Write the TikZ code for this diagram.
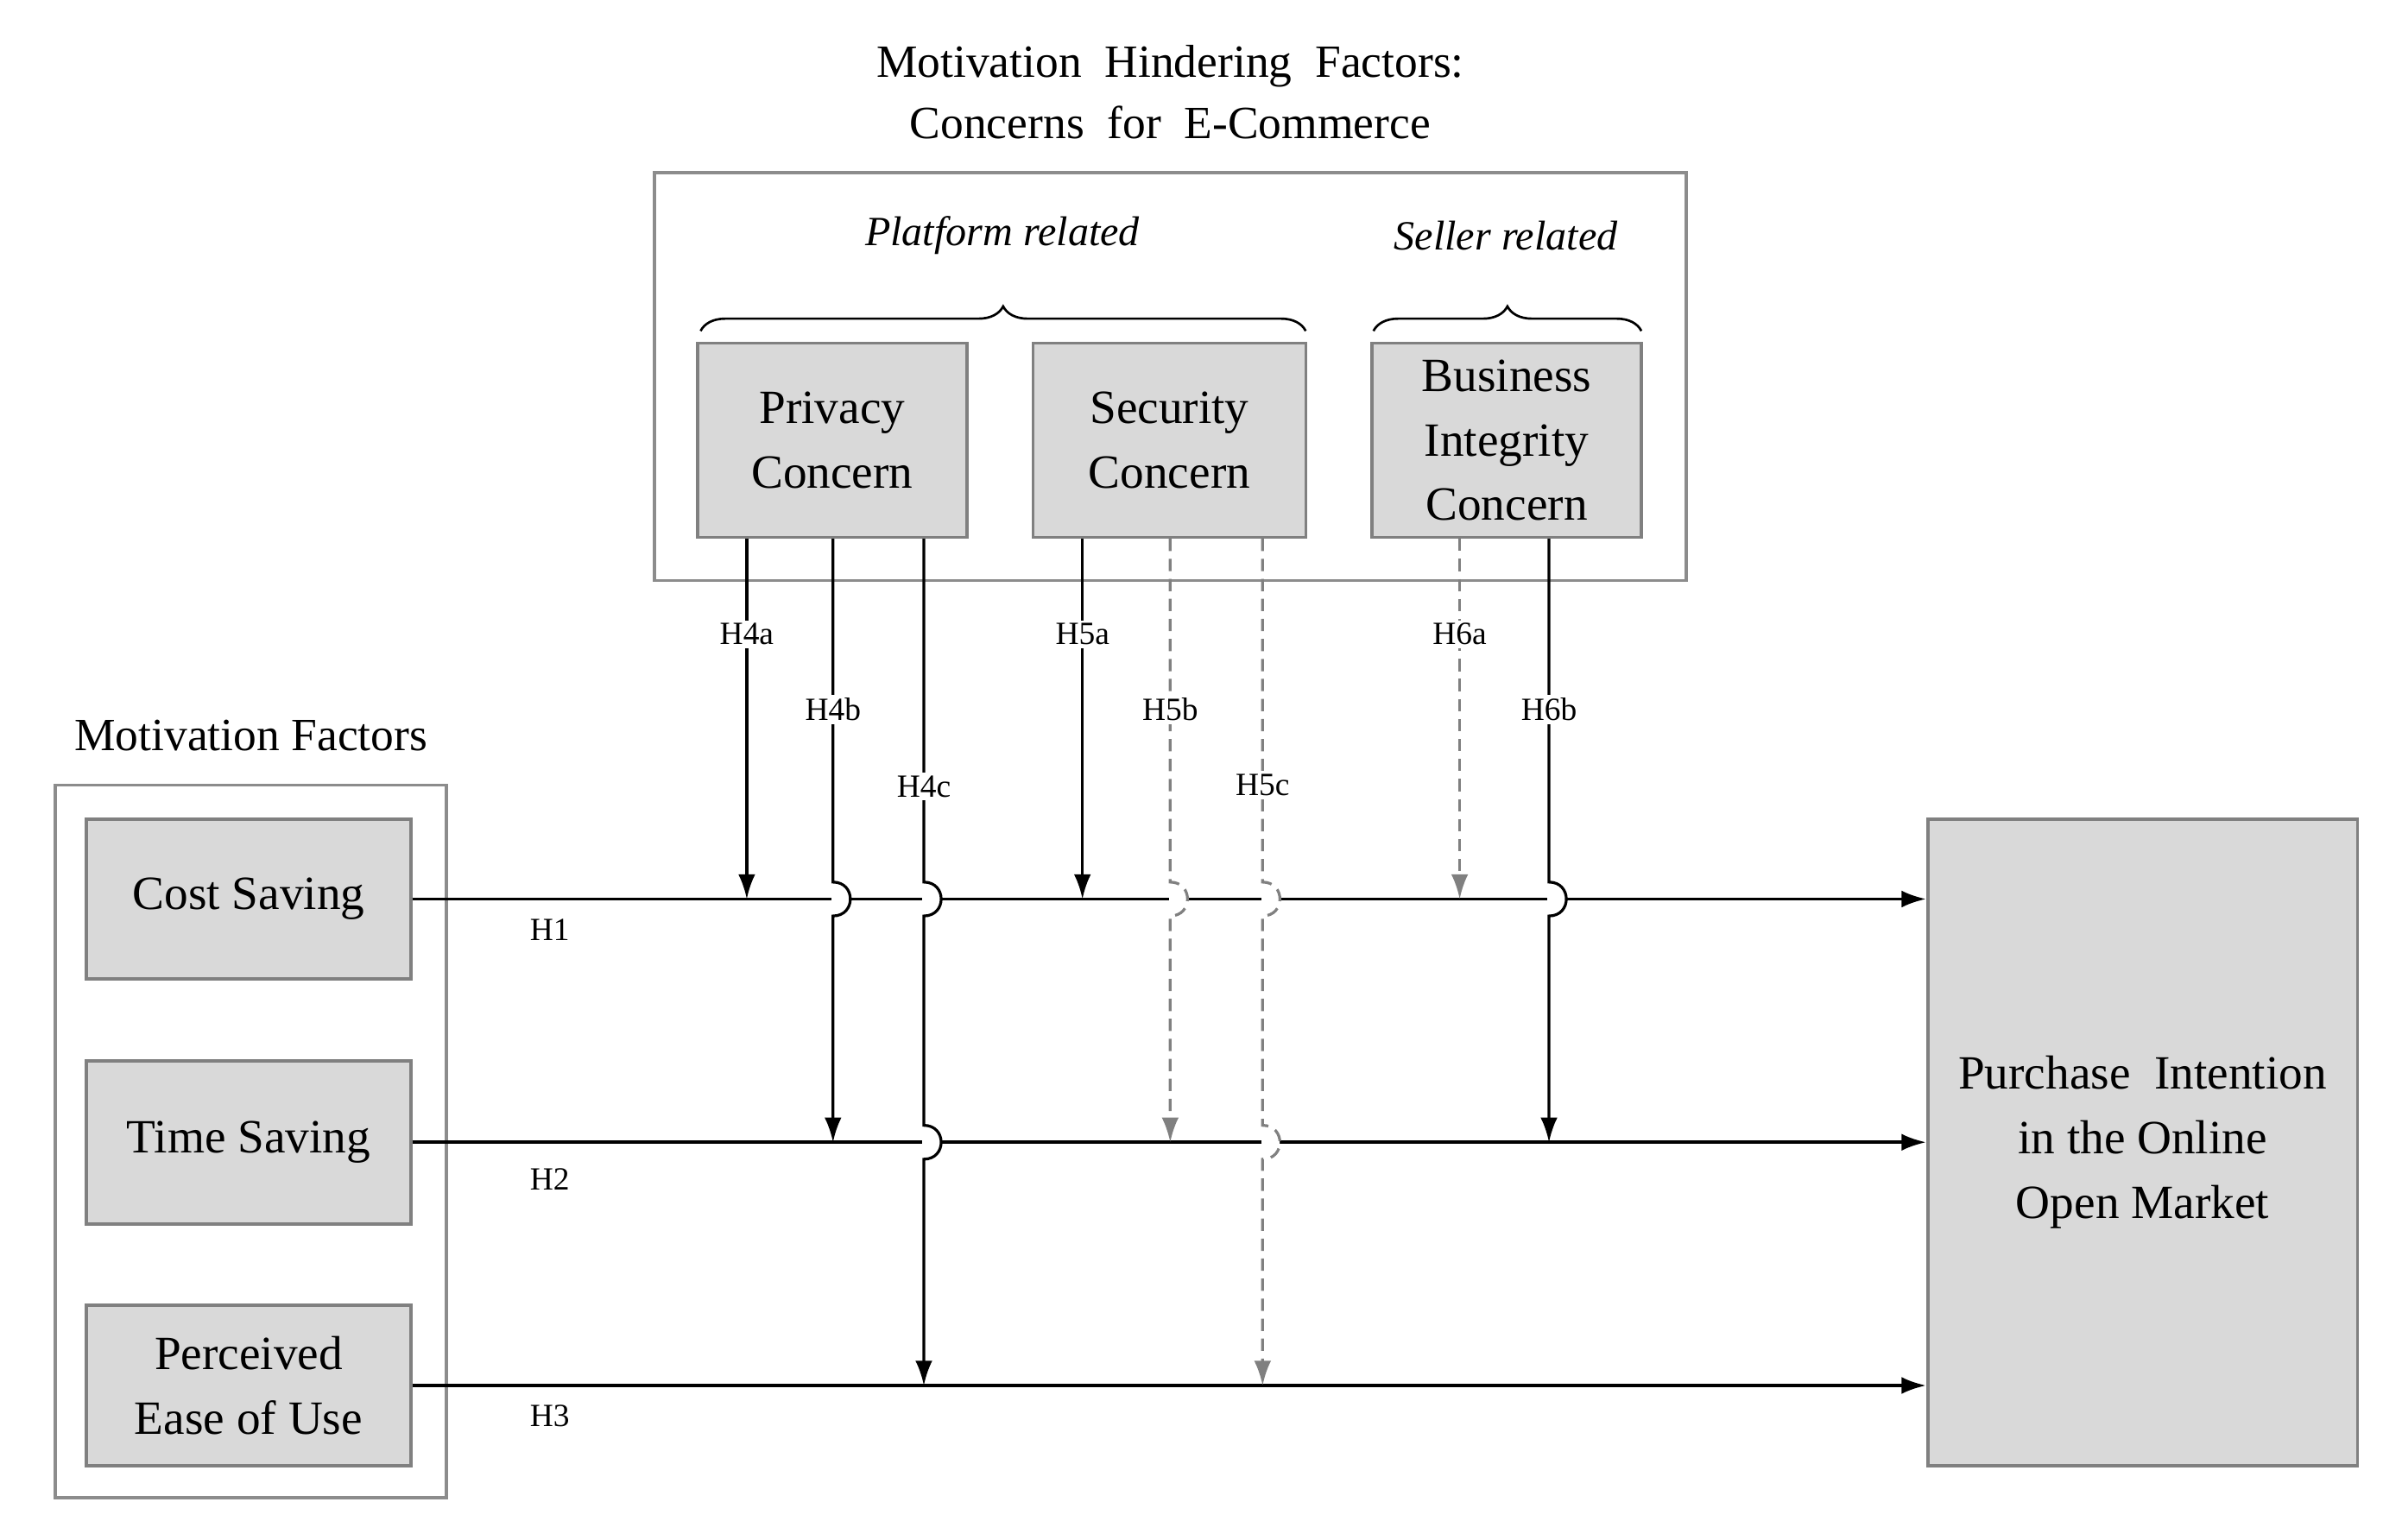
\documentclass[tikz,border=0pt]{standalone}
\usepackage{fontspec}
\setmainfont{Liberation Serif}
\usetikzlibrary{arrows.meta,decorations.pathreplacing}
\begin{document}
\begin{tikzpicture}[x=1pt,y=-1pt,
  box/.style={draw=black!50,line width=2pt,fill=black!15,align=center,font=\fontsize{31}{42}\selectfont,inner sep=0pt},
  frame/.style={draw=black!45,line width=2pt},
  hl/.style={line width=2pt,-{Latex[length=16,width=11]}},
  sv/.style={line width=1.8pt,-{Latex[length=16,width=11]}},
  dv/.style={line width=1.8pt,black!50,dash pattern=on 8pt off 5pt,-{Latex[length=16,width=11]}},
  lab/.style={fill=white,inner sep=2pt,font=\fontsize{21}{24}\selectfont},
  hlab/.style={font=\fontsize{21}{24}\selectfont},
  brc/.style={decorate,decoration={brace,amplitude=16pt},line width=1.5pt}]
\useasboundingbox (0,0) rectangle (1560,1000);
% titles
\node[align=center,font=\fontsize{30}{40}\selectfont] (title) at (760,60) {Motivation\ \ Hindering\ \ Factors:\\Concerns\ \ for\ \ E-Commerce};
\draw[frame] (425,112) rectangle (1095,377);
\node[font=\fontsize{27}{30}\selectfont\itshape] (plat) at (651,153) {Platform related};
\node[font=\fontsize{27}{30}\selectfont\itshape] (sell) at (978,153) {Seller related};
\draw[brc] (455,215) -- (848,215);
\draw[brc] (892,215) -- (1066,215);
% concern boxes
\node[box,minimum width=175pt,minimum height=126pt] (priv) at (540.5,286) {Privacy\\Concern};
\node[box,minimum width=177pt,minimum height=126pt] (sec) at (759.5,286) {Security\\Concern};
\node[box,minimum width=175pt,minimum height=126pt] (bus) at (978.5,286) {Business\\Integrity\\Concern};
% motivation factors
\node[font=\fontsize{30}{34}\selectfont] (mf) at (163,478) {Motivation Factors};
\draw[frame] (36,510) rectangle (290,973);
\node[box,minimum width=211pt,minimum height=104pt] (cost) at (161.5,584) {Cost Saving};
\node[box,minimum width=211pt,minimum height=106pt] (time) at (161.5,742) {Time Saving};
\node[box,minimum width=211pt,minimum height=104pt] (ease) at (161.5,900) {Perceived\\Ease of Use};
\node[box,minimum width=279pt,minimum height=420pt] (pi) at (1391.5,742) {Purchase\ \ Intention\\in the Online\\Open Market};
% horizontal arrows
\draw[hl] (cost.east) -- (cost.east -| pi.west);
\draw[hl] (time.east) -- (time.east -| pi.west);
\draw[hl] (ease.east) -- (ease.east -| pi.west);
\node[hlab] (h1) at (357,604) {H1};
\node[hlab] (h2) at (357,766) {H2};
\node[hlab] (h3) at (357,920) {H3};
% hop masks
\foreach \x/\y in {541/584,600/584,600/742,760/584,820/584,820/742,1006/584}{
  \fill[white] (\x,\y-11) .. controls (\x+15,\y-11) and (\x+15,\y+11) .. (\x,\y+11) -- cycle;
  \fill[white] (\x-1,\y-3) rectangle (\x+1,\y+3);
}
% verticals
\coordinate (x4a) at (485,0); \coordinate (x4b) at (541,0); \coordinate (x4c) at (600,0);
\coordinate (x5a) at (703,0); \coordinate (x5b) at (760,0); \coordinate (x5c) at (820,0);
\coordinate (x6a) at (948,0); \coordinate (x6b) at (1006,0);
\draw[sv] (priv.south -| x4a) -- (cost.east -| x4a);
\draw[sv] (priv.south -| x4b) -- (541,573) .. controls (556,573) and (556,595) .. (541,595) -- (time.east -| x4b);
\draw[sv] (priv.south -| x4c) -- (600,573) .. controls (615,573) and (615,595) .. (600,595) -- (600,731) .. controls (615,731) and (615,753) .. (600,753) -- (ease.east -| x4c);
\draw[sv] (sec.south -| x5a) -- (cost.east -| x5a);
\draw[dv] (sec.south -| x5b) -- (760,573) .. controls (775,573) and (775,595) .. (760,595) -- (time.east -| x5b);
\draw[dv] (sec.south -| x5c) -- (820,573) .. controls (835,573) and (835,595) .. (820,595) -- (820,731) .. controls (835,731) and (835,753) .. (820,753) -- (ease.east -| x5c);
\draw[dv] (bus.south -| x6a) -- (cost.east -| x6a);
\draw[sv] (bus.south -| x6b) -- (1006,573) .. controls (1021,573) and (1021,595) .. (1006,595) -- (time.east -| x6b);
% labels
\node[lab] (l4a) at (485,412) {H4a};
\node[lab] (l4b) at (541,461) {H4b};
\node[lab] (l4c) at (600,511) {H4c};
\node[lab] (l5a) at (703,412) {H5a};
\node[lab] (l5b) at (760,461) {H5b};
\node[lab] (l5c) at (820,510) {H5c};
\node[lab] (l6a) at (948,412) {H6a};
\node[lab] (l6b) at (1006,461) {H6b};
\end{tikzpicture}
\end{document}
